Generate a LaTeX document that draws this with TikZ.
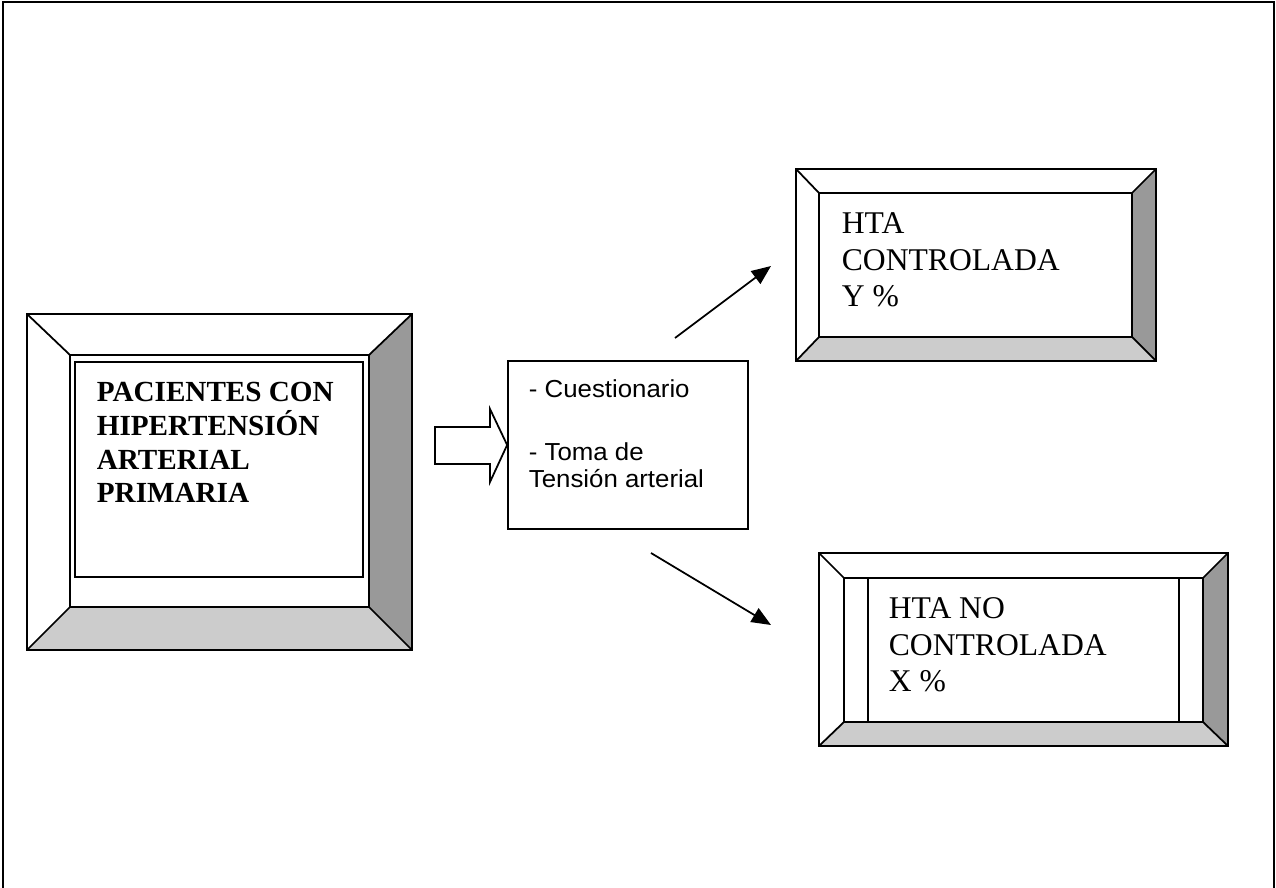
\documentclass[tikz,border=0pt]{standalone}
\usepackage{fontspec}
\setmainfont{Liberation Serif}
\newfontfamily\arial[FakeStretch=1.05]{Liberation Sans}
\usetikzlibrary{arrows.meta}

\begin{document}
\begin{tikzpicture}[x=0.02cm,y=-0.02cm,line width=1pt]
		\useasboundingbox (0,0) rectangle (1276,888);
		\draw (3,888)--(3,2)--(1274,2)--(1274,888);
		\foreach \a/\b/\c/\d/\e/\f/\g/\h in {27/314/412/650/70/355/369/607,796/169/1156/361/819/193/1132/337,819/553/1228/746/844/578/1203/722}{
			\fill[black!40] (\c,\b)--(\c,\d)--(\g,\h)--(\g,\f)--cycle;
			\fill[black!20] (\a,\d)--(\c,\d)--(\g,\h)--(\e,\h)--cycle;
			\draw (\a,\b) rectangle (\c,\d);
			\draw (\e,\f) rectangle (\g,\h);
			\draw (\a,\b)--(\e,\f);
			\draw (\c,\b)--(\g,\f);
			\draw (\a,\d)--(\e,\h);
			\draw (\c,\d)--(\g,\h);
		}
		\draw (75,362) rectangle (363,577);
		\foreach \x in {868,1179}{
			\draw (\x,578)--(\x,722);
		}
		\node (pacientes) at (96,503)[anchor=base west,align=left,inner sep=0pt,font=\fontsize{16.6}{19.3}\selectfont\bfseries]{PACIENTES CON\\HIPERTENSIÓN\\ARTERIAL\\PRIMARIA};
		\node (pasos) at (628,445)[draw,minimum width=4.8cm,minimum height=3.36cm]{};
		\node (lista) at (528,488)[anchor=base west,align=left,inner sep=0pt,font=\arial\fontsize{14}{15.9}\selectfont]{- Cuestionario\\[19.9pt]- Toma de\\Tensión arterial};
		\node (controlada) at (841,307)[anchor=base west,align=left,inner sep=0pt,font=\fontsize{18}{20.8}\selectfont]{HTA\\CONTROLADA\\Y \%};
		\node (nocontrolada) at (888,692)[anchor=base west,align=left,inner sep=0pt,font=\fontsize{18}{20.8}\selectfont]{HTA NO\\CONTROLADA\\X \%};
		\draw (435,427)--(490,427)--(490,409)--(pasos.west)--(490,482)--(490,464)--(435,464)--cycle;
		\coordinate (sube) at (675,338);
		\coordinate (arriba) at (771,266);
		\coordinate (baja) at (651,553);
		\coordinate (abajo) at (771,625);
		\draw[-{Triangle[length=11pt,width=9pt]}] (sube)--(arriba);
		\draw[-{Triangle[length=11pt,width=9pt]}] (baja)--(abajo);
	\end{tikzpicture}
\end{document}
